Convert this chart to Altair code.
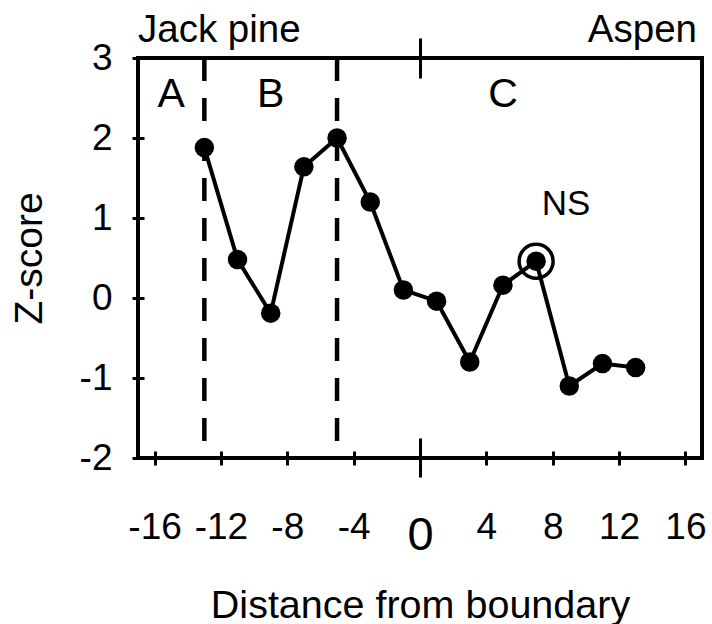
import altair as alt
import pandas as pd

# ---- data ----
distance = [-13, -11, -9, -7, -5, -3, -1, 1, 3, 5, 7, 9, 11, 13]
zscore = [1.88, 0.48, -0.19, 1.64, 2.00, 1.20, 0.10, -0.04, -0.80, 0.16, 0.46, -1.10, -0.82, -0.87]
significant = [True, True, True, True, True, True, True, True, True, True, False, True, True, True]
zone_boundaries = [-13, -5]
regions = ["A", "B", "C"]
region_label_x = [-15, -9, 5]
stand_names = ["Jack pine", "Aspen"]
x_ticks = [-16, -12, -8, -4, 0, 4, 8, 12, 16]
y_ticks = [3, 2, 1, 0, -1, -2]
ns_label = "NS"

FONT = "Liberation Sans"
W, H = 564, 400

df = pd.DataFrame({"distance": distance, "z": zscore, "sig": significant})
bdf = pd.DataFrame({"b": zone_boundaries})
rdf = pd.DataFrame({"region": regions, "rx": region_label_x})
sdf = pd.DataFrame({"name": stand_names})

xscale = alt.Scale(domain=[-17, 17], nice=False, zero=False)
yscale = alt.Scale(domain=[-2, 3], nice=False, zero=False)

x_main_axis = alt.Axis(
    orient="bottom", values=x_ticks, offset=-7, tickSize=14, tickWidth=3,
    tickColor="black", domain=False, grid=False,
    labelExpr="datum.value == 0 ? '' : '' + datum.value",
    labelFont=FONT, labelFontSize=37, labelColor="black",
    labelBaseline="alphabetic", labelPadding=73, labelFlush=False, labelOverlap=False,
    title="Distance from boundary", titleFont=FONT, titleFontSize=39.5,
    titleFontWeight="normal", titleColor="black",
    titleX=W / 2, titleY=166, titleAlign="center", titleBaseline="alphabetic",
)
y_axis = alt.Axis(
    orient="left", values=y_ticks, offset=-6, tickSize=12, tickWidth=3,
    tickColor="black", domain=False, grid=False,
    labelExpr="'' + datum.value",
    labelFont=FONT, labelFontSize=37, labelColor="black",
    labelAlign="right", labelBaseline="middle", labelPadding=20,
    labelFlush=False, labelOverlap=False,
    title="Z-score", titleFont=FONT, titleFontSize=39, titleFontWeight="normal",
    titleColor="black", titleX=-115, titleY=H / 2, titleAngle=270,
    titleAlign="center", titleBaseline="middle",
)
x_top_axis = alt.Axis(
    orient="top", values=[0], offset=-20, tickSize=40, tickWidth=3,
    tickColor="black", domain=False, grid=False, labels=False, title=None,
)
x_zero_axis = alt.Axis(
    orient="bottom", values=[0], offset=-20, tickSize=39, tickWidth=3,
    tickColor="black", domain=False, grid=False,
    labelExpr="'' + datum.value", labelFont=FONT, labelFontSize=47,
    labelColor="black", labelBaseline="alphabetic", labelPadding=72,
    labelFlush=False, title=None,
)

line = alt.Chart(df).mark_line(color="black", strokeWidth=4).encode(
    x=alt.X("distance:Q", scale=xscale, axis=x_main_axis),
    y=alt.Y("z:Q", scale=yscale, axis=y_axis),
)
points = alt.Chart(df).mark_circle(color="black", size=380, opacity=1).encode(
    x=alt.X("distance:Q", scale=xscale, axis=None),
    y=alt.Y("z:Q", scale=yscale, axis=None),
)
rules = alt.Chart(bdf).mark_rule(color="black", strokeWidth=4.5, strokeDash=[23, 17]).encode(
    x=alt.X("b:Q", scale=xscale, axis=x_top_axis),
)
ns_ring = alt.Chart(df).transform_filter("!datum.sig").mark_point(
    shape="circle", filled=False, color="black", size=1156, strokeWidth=3.5, opacity=1
).encode(
    x=alt.X("distance:Q", scale=xscale, axis=x_zero_axis),
    y=alt.Y("z:Q", scale=yscale, axis=None),
)
ns_text = alt.Chart(df).transform_filter("!datum.sig").transform_calculate(
    lab=f"'{ns_label}'"
).mark_text(
    font=FONT, fontSize=35, color="black", align="center", baseline="alphabetic",
    dx=30, dy=-46,
).encode(
    x=alt.X("distance:Q", scale=xscale, axis=None),
    y=alt.Y("z:Q", scale=yscale, axis=None),
    text="lab:N",
)
region_text = alt.Chart(rdf).mark_text(
    font=FONT, fontSize=41, color="black", align="center", baseline="alphabetic",
).encode(
    x=alt.X("rx:Q", scale=xscale, axis=None),
    y=alt.value(49),
    text="region:N",
)
jack = alt.Chart(sdf).transform_filter(f"datum.name == '{stand_names[0]}'").mark_text(
    font=FONT, fontSize=38.5, color="black", align="left", baseline="alphabetic",
).encode(x=alt.value(0), y=alt.value(-16), text="name:N")
aspen = alt.Chart(sdf).transform_filter(f"datum.name == '{stand_names[1]}'").mark_text(
    font=FONT, fontSize=38.5, color="black", align="right", baseline="alphabetic",
).encode(x=alt.value(W - 5), y=alt.value(-16), text="name:N")

chart = alt.layer(
    line, rules, ns_ring, points, ns_text, region_text, jack, aspen
).resolve_axis(x="independent", y="independent").properties(
    width=W, height=H,
    autosize=alt.AutoSizeParams(type="none"),
    padding={"left": 138, "top": 58, "right": 10, "bottom": 166},
    background="white",
).configure_view(stroke="black", strokeWidth=4)

chart.save("out.html", embed_options={"renderer": "svg", "actions": False})
